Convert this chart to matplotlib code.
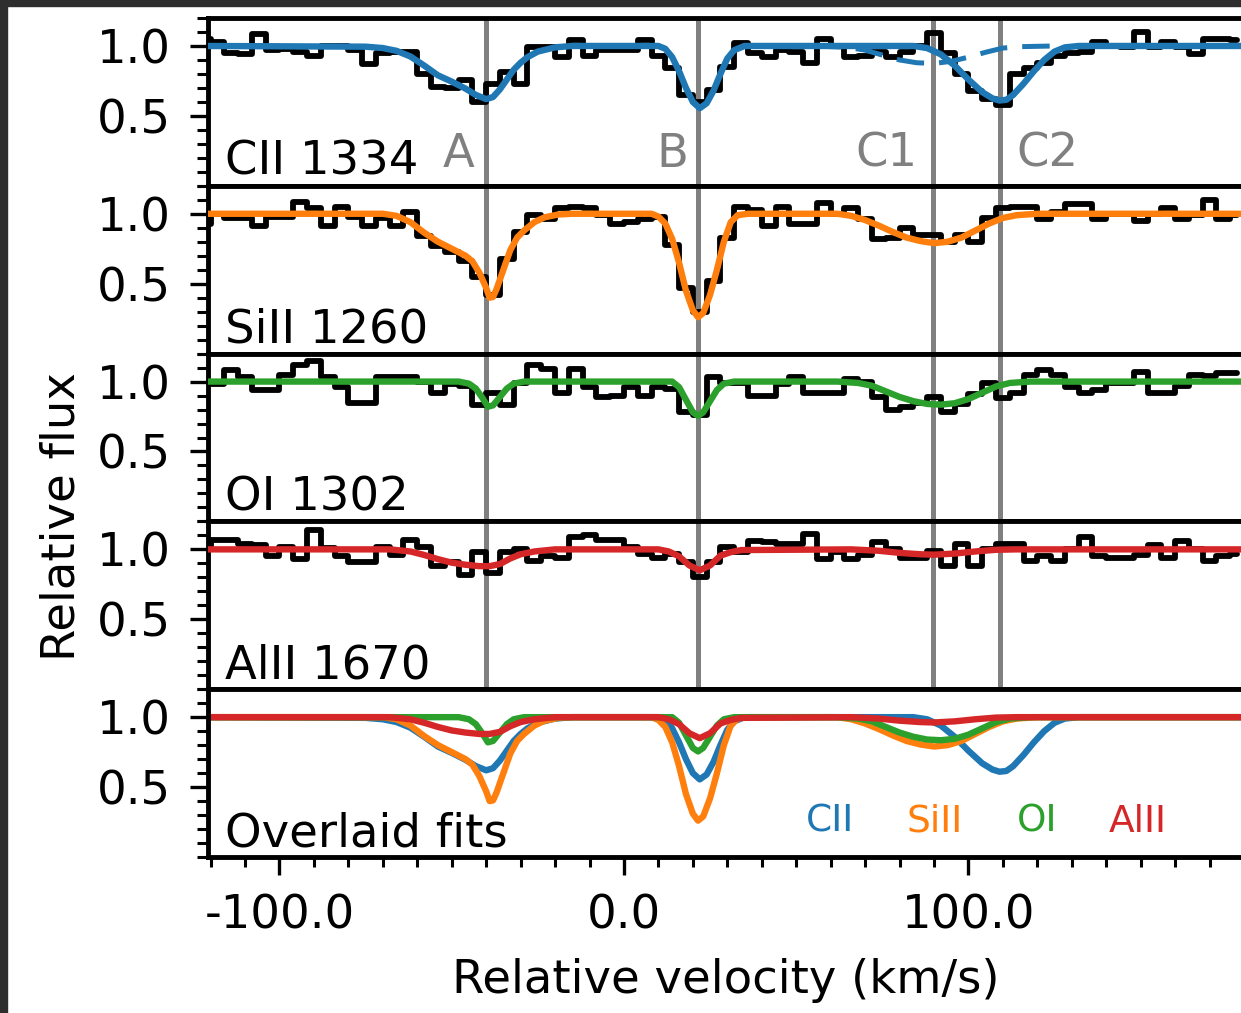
import matplotlib
matplotlib.use("Agg")
from matplotlib import pyplot as plt
from matplotlib.ticker import MultipleLocator, FormatStrFormatter
from matplotlib.patches import Rectangle

# velocity grid of the spectra (km/s)
vel = [-122, -118, -114, -110, -106, -102, -98, -94, -90, -86,
       -82, -78, -74, -70, -66, -62, -58, -54, -50, -46,
       -42, -38, -34, -30, -26, -22, -18, -14, -10, -6,
       -2, 2, 6, 10, 14, 18, 22, 26, 30, 34,
       38, 42, 46, 50, 54, 58, 62, 66, 70, 74,
       78, 82, 86, 90, 94, 98, 102, 106, 110, 114,
       118, 122, 126, 130, 134, 138, 142, 146, 150, 154,
       158, 162, 166, 170, 174, 178]

# normalised flux, one list per ion
flux_cii = [1.05, 1.03, 0.95, 0.945, 1.085, 0.97, 0.98, 0.96, 0.93, 1.0,
            1.0, 0.97, 0.87, 0.95, 0.955, 0.96, 0.80, 0.71, 0.70, 0.76,
            0.60, 0.73, 0.815, 0.73, 0.99, 0.99, 0.92, 1.04, 0.93, 0.97,
            0.97, 0.97, 1.04, 0.93, 0.84, 0.65, 0.60, 0.685, 0.85, 1.02,
            0.95, 0.92, 0.97, 0.96, 0.88, 1.05, 1.0, 0.92, 0.93, 0.96,
            0.92, 0.96, 1.0, 1.09, 0.95, 0.80, 0.68, 0.62, 0.58, 0.80,
            0.84, 0.88, 0.93, 0.95, 0.96, 1.03, 1.0, 0.99, 1.10, 0.99,
            1.03, 0.99, 0.94, 1.05, 1.05, 1.04]
flux_siii = [0.93, 1.0, 0.97, 0.97, 0.91, 0.98, 0.98, 1.085, 1.04, 0.91,
             1.05, 0.98, 0.91, 0.97, 0.91, 1.01, 0.84, 0.77, 0.73, 0.66,
             0.55, 0.42, 0.68, 0.87, 0.99, 0.96, 1.04, 1.05, 1.04, 0.99,
             0.93, 0.94, 0.96, 0.98, 0.78, 0.47, 0.30, 0.52, 0.83, 1.05,
             1.03, 0.91, 1.05, 0.93, 0.93, 1.08, 1.0, 1.04, 0.96, 0.82,
             0.83, 0.90, 0.85, 0.85, 0.80, 0.85, 0.80, 0.97, 1.04, 1.05,
             1.05, 0.96, 1.01, 1.07, 1.07, 0.96, 1.0, 1.0, 0.95, 1.0,
             1.04, 0.96, 0.99, 1.10, 0.96, 0.99]
flux_oi = [1.0, 0.98, 1.08, 1.03, 0.94, 0.94, 1.05, 1.12, 1.15, 1.03,
           0.96, 0.85, 0.85, 1.03, 1.03, 1.03, 1.0, 0.92, 0.98, 0.97,
           0.83, 0.92, 0.83, 0.99, 1.12, 1.09, 0.92, 1.09, 0.96, 0.89,
           0.90, 0.96, 0.90, 0.96, 0.95, 0.78, 0.76, 1.03, 0.99, 0.99,
           0.90, 0.90, 0.985, 1.03, 0.92, 0.92, 0.915, 1.02, 1.0, 0.89,
           0.80, 0.82, 0.85, 0.89, 0.78, 0.84, 0.91, 0.99, 0.88, 0.92,
           1.05, 1.08, 1.05, 0.96, 0.92, 0.94, 0.99, 0.99, 1.07, 0.92,
           0.92, 0.97, 1.05, 1.04, 1.06, 1.06]
flux_alii = [1.0, 1.07, 1.07, 1.04, 1.03, 0.95, 1.02, 0.93, 1.14, 1.01,
             0.95, 0.91, 0.91, 1.02, 0.96, 1.07, 1.02, 0.88, 0.91, 0.82,
             0.98, 0.83, 0.98, 1.0, 0.92, 0.95, 0.94, 1.09, 1.10, 1.07,
             1.07, 1.02, 0.97, 0.94, 0.97, 0.91, 0.80, 0.91, 1.02, 0.98,
             1.06, 1.05, 1.04, 1.04, 1.11, 0.93, 0.98, 0.93, 0.96, 1.05,
             1.0, 0.94, 0.94, 0.99, 0.88, 1.04, 0.88, 1.0, 1.04, 1.04,
             0.92, 0.95, 0.92, 1.0, 1.09, 0.95, 0.94, 0.94, 0.96, 1.03,
             0.94, 1.06, 1.0, 0.92, 0.95, 0.97]

fit_cii_v = [-122, -75, -70, -66, -62, -58, -54, -50, -46, -43, -40, -38, -36, -34, -32, -30, -28, -25, -20, -15,
             10, 12, 14, 16, 18, 20, 22, 24, 26, 28, 30, 32, 35, 40,
             84, 88, 92, 96, 100, 104, 107, 109, 111, 113, 116, 119, 122, 125, 128, 132, 180]
fit_cii_f = [1.0, 0.995, 0.985, 0.965, 0.925, 0.86, 0.79, 0.745, 0.695, 0.65, 0.62, 0.635, 0.69, 0.76, 0.83, 0.88, 0.92, 0.96, 0.99, 1.0,
             1.0, 0.98, 0.92, 0.82, 0.70, 0.60, 0.555, 0.59, 0.68, 0.80, 0.91, 0.97, 1.0, 1.0,
             1.0, 0.985, 0.94, 0.86, 0.76, 0.67, 0.625, 0.61, 0.615, 0.65, 0.73, 0.82, 0.90, 0.96, 0.99, 1.0, 1.0]
fit_siii_v = [-122, -70, -66, -62, -58, -54, -50, -46, -44, -42, -40, -39, -38, -37, -35, -33, -31, -29, -26, -23, -19, -15,
              8, 10, 12, 14, 16, 18, 20, 21.5, 23, 25, 27, 29, 31, 33, 36,
              62, 66, 70, 74, 78, 82, 86, 90, 94, 98, 102, 106, 110, 114, 120, 180]
fit_siii_f = [1.0, 1.0, 0.985, 0.94, 0.865, 0.80, 0.75, 0.70, 0.66, 0.58, 0.47, 0.40, 0.405, 0.46, 0.60, 0.74, 0.83, 0.88, 0.94, 0.975, 0.995, 1.0,
              1.0, 0.98, 0.93, 0.82, 0.65, 0.45, 0.31, 0.26, 0.29, 0.42, 0.60, 0.80, 0.94, 0.99, 1.0,
              1.0, 0.985, 0.955, 0.915, 0.87, 0.83, 0.805, 0.79, 0.80, 0.83, 0.88, 0.93, 0.97, 0.99, 1.0, 1.0]
fit_oi_v = [-122, -48, -45, -43, -41, -39.5, -38, -36, -34, -32, -29,
            14, 16, 18, 20, 21.5, 23, 25, 27, 29, 32,
            62, 68, 72, 76, 80, 84, 88, 92, 96, 100, 104, 108, 112, 118, 180]
fit_oi_f = [1.0, 1.0, 0.985, 0.95, 0.88, 0.82, 0.83, 0.89, 0.95, 0.985, 1.0,
            1.0, 0.96, 0.87, 0.78, 0.755, 0.78, 0.86, 0.94, 0.985, 1.0,
            1.0, 0.99, 0.97, 0.93, 0.89, 0.86, 0.84, 0.835, 0.845, 0.875, 0.92, 0.965, 0.99, 1.0, 1.0]
fit_alii_v = [-122, -68, -62, -58, -54, -50, -46, -42, -39, -36, -33, -30, -26, -20,
              10, 13, 16, 19, 22, 25, 28, 31, 34,
              66, 74, 80, 86, 90, 96, 102, 108, 114, 180]
fit_alii_f = [1.0, 1.0, 0.985, 0.96, 0.93, 0.905, 0.89, 0.88, 0.88, 0.895, 0.935, 0.965, 0.985, 1.0,
              1.0, 0.985, 0.95, 0.885, 0.85, 0.885, 0.955, 0.98, 0.995,
              1.0, 0.99, 0.975, 0.965, 0.962, 0.97, 0.985, 0.997, 1.0, 1.0]
# single C1 component of CII (dashed)
comp_c1_v = [55, 65, 70, 75, 80, 85, 90, 95, 100, 105, 110, 115, 125]
comp_c1_f = [1.0, 0.99, 0.97, 0.935, 0.90, 0.88, 0.875, 0.89, 0.92, 0.955, 0.985, 0.995, 1.0]

ions = ["CII 1334", "SiII 1260", "OI 1302", "AlII 1670"]
short_names = ["CII", "SiII", "OI", "AlII"]
colors = ["#1f77b4", "#ff7f0e", "#2ca02c", "#d62728"]
fluxes = [flux_cii, flux_siii, flux_oi, flux_alii]
fits = [(fit_cii_v, fit_cii_f), (fit_siii_v, fit_siii_f), (fit_oi_v, fit_oi_f), (fit_alii_v, fit_alii_f)]

# component velocities and their labels
comp_v = [-40, 21.5, 89.7, 109.1]
comp_names = ["A", "B", "C1", "C2"]
comp_text_v = [-43.3, 18.8, 85.3, 114.0]
comp_text_ha = ["right", "right", "right", "left"]

FS = 33.5
plt.rcParams["font.family"] = "DejaVu Sans"
plt.rcParams["font.size"] = FS

W, H = 1241, 1013
fig = plt.figure(figsize=(W / 100, H / 100), dpi=100)

# dark frame left/top (screenshot border)
fig.patches.append(Rectangle((0, 1 - 6 / H), 1, 6 / H, transform=fig.transFigure, color="#2e2e2e", zorder=0))
fig.patches.append(Rectangle((0, 0), 7 / W, 1, transform=fig.transFigure, color="#2e2e2e", zorder=0))

left = 208 / W
width = 1036 / W
top = 18
panel_h = 167.8
axes = []
for i in range(5):
    y0 = 1 - (top + (i + 1) * panel_h) / H
    ax = fig.add_axes([left, y0, width, panel_h / H])
    axes.append(ax)


def style_axis(ax, bottom):
    ax.set_xlim(-120.75, 180)
    ax.set_ylim(0, 1.2)
    for s in ax.spines.values():
        s.set_linewidth(3.5)
    ax.yaxis.set_major_locator(MultipleLocator(0.5))
    ax.yaxis.set_minor_locator(MultipleLocator(0.1))
    ax.yaxis.set_major_formatter(FormatStrFormatter("%.1f"))
    ax.set_yticks([0.5, 1.0])
    ax.xaxis.set_major_locator(MultipleLocator(100))
    ax.xaxis.set_minor_locator(MultipleLocator(10))
    ax.xaxis.set_major_formatter(FormatStrFormatter("%.1f"))
    ax.tick_params(axis="y", which="major", direction="out", length=13, width=2.4, pad=13.5, labelsize=FS)
    ax.tick_params(axis="y", which="minor", direction="out", length=8, width=2.2)
    ax.tick_params(axis="x", which="major", direction="out", length=13, width=2.4, pad=13, labelsize=FS,
                   bottom=bottom, labelbottom=bottom)
    ax.tick_params(axis="x", which="minor", direction="out", length=7, width=2.2, bottom=bottom)


# spectra panels
for i in range(4):
    ax = axes[i]
    style_axis(ax, False)
    for v in comp_v:
        ax.axvline(v, color="gray", lw=3.6, zorder=1)
    ax.plot(vel, fluxes[i], color="black", lw=4.2, drawstyle="steps-mid",
            solid_joinstyle="round", solid_capstyle="round", zorder=2)
    ax.plot(fits[i][0], fits[i][1], color=colors[i], lw=4.6, zorder=3)
    ax.text(0.016, 0.065, ions[i], transform=ax.transAxes, ha="left", va="baseline", fontsize=FS)

axes[0].plot(comp_c1_v, comp_c1_f, color=colors[0], lw=3.6, ls=(0, (5.5, 3)), zorder=3)
for v, name, ha in zip(comp_text_v, comp_names, comp_text_ha):
    axes[0].text(v, 0.115, name, transform=axes[0].get_xaxis_transform(), ha=ha, va="baseline",
                 color="gray", fontsize=FS)

# overlaid fits
ax = axes[4]
style_axis(ax, True)
for i in range(4):
    ax.plot(fits[i][0], fits[i][1], color=colors[i], lw=4.6)
ax.text(0.016, 0.065, "Overlaid fits", transform=ax.transAxes, ha="left", va="baseline", fontsize=FS)
legend_v = [59.8, 90.3, 119.9, 149.2]
for v, name, c in zip(legend_v, short_names, colors):
    ax.text(v, 0.15, name, transform=ax.get_xaxis_transform(), ha="center", va="baseline", color=c, fontsize=27)
ax.set_xlabel("Relative velocity (km/s)", fontsize=FS, labelpad=14)

fig.text(62 / W, 1 - 517 / H, "Relative flux", rotation=90, ha="center", va="center", fontsize=FS)

fig.savefig("out.png", dpi=100)
